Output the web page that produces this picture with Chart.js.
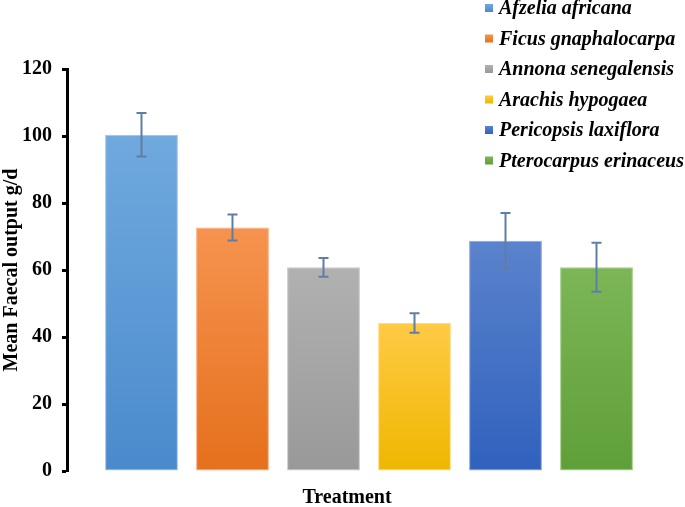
<!DOCTYPE html>
<html>
<head>
<meta charset="utf-8">
<script src="https://cdn.jsdelivr.net/npm/chart.js@4.4.0/dist/chart.umd.min.js"></script>
<style>
  body { margin: 0; background: #fff; }
  #wrap { width: 685px; height: 507px; }
</style>
</head>
<body>
<div id="wrap"><canvas id="chart" width="685" height="507"></canvas></div>
<script>
const categories = ['Treatment'];
const treatments = ['Afzelia africana', 'Ficus gnaphalocarpa', 'Annona senegalensis',
    'Arachis hypogaea', 'Pericopsis laxiflora', 'Pterocarpus erinaceus'];
const means = [100.4, 72.7, 60.8, 44.2, 68.7, 60.8];
const errors = [6.5, 3.9, 2.8, 2.9, 8.3, 7.3];
const yTicks = [0, 20, 40, 60, 80, 100, 120];

const topColors = ['#70a9de', '#f6934f', '#b1b1b1', '#ffca45', '#5b83cd', '#7cb657'];
const bottomColors = ['#4a8acc', '#e5701d', '#999999', '#eeb700', '#2f61bd', '#5f9f38'];
const edgeColors = ['#9cc3ea', '#f8ad7d', '#c8c8c8', '#ffdb85', '#8aa5dc', '#a0cc84'];

const FONT = '"Liberation Serif", "Times New Roman", serif';

function barGradient(ctx, i) {
    const chart = ctx.chart;
    if (!chart.chartArea || !chart.scales.y) return bottomColors[i];
    const y = chart.scales.y;
    const top = y.getPixelForValue(means[i]);
    const bottom = y.getPixelForValue(0);
    const g = chart.ctx.createLinearGradient(0, top, 0, bottom);
    g.addColorStop(0, topColors[i]);
    g.addColorStop(1, bottomColors[i]);
    return g;
}

// error bars drawn on top of the bars
const errorBars = {
    id: 'errorBars',
    afterDatasetsDraw(chart) {
        const ctx = chart.ctx;
        const y = chart.scales.y;
        ctx.save();
        ctx.strokeStyle = '#5f7ea6';
        ctx.lineWidth = 2;
        chart.data.datasets.forEach((ds, i) => {
            const bar = chart.getDatasetMeta(i).data[0];
            if (!bar) return;
            const yHi = y.getPixelForValue(means[i] + errors[i]);
            const yLo = y.getPixelForValue(means[i] - errors[i]);
            ctx.beginPath();
            ctx.moveTo(bar.x, yHi);
            ctx.lineTo(bar.x, yLo);
            ctx.moveTo(bar.x - 5, yHi);
            ctx.lineTo(bar.x + 5, yHi);
            ctx.moveTo(bar.x - 5, yLo);
            ctx.lineTo(bar.x + 5, yLo);
            ctx.stroke();
        });
        ctx.restore();
    }
};

// legend in the top right corner and the x axis title
const overlay = {
    id: 'overlay',
    afterDraw(chart) {
        const ctx = chart.ctx;
        ctx.save();
        ctx.textBaseline = 'middle';
        ctx.textAlign = 'left';
        ctx.font = 'italic bold 20px ' + FONT;
        treatments.forEach((name, i) => {
            const cy = 8 + i * 30.5;
            const g = ctx.createLinearGradient(0, cy - 4, 0, cy + 4);
            g.addColorStop(0, topColors[i]);
            g.addColorStop(1, bottomColors[i]);
            ctx.fillStyle = g;
            ctx.fillRect(485, cy - 4, 8, 8);
            ctx.fillStyle = '#000';
            ctx.fillText(name, 499, cy + 1);
        });
        ctx.font = 'bold 20px ' + FONT;
        ctx.textAlign = 'center';
        ctx.fillText(categories[0], 347, 498);
        ctx.restore();
    }
};

const datasets = treatments.map((name, i) => ({
    label: name,
    data: [means[i]],
    backgroundColor: ctx => barGradient(ctx, i),
    borderColor: edgeColors[i],
    borderWidth: 1,
    borderSkipped: false,
    barPercentage: 0.8,
    categoryPercentage: 0.904
}));

new Chart(document.getElementById('chart'), {
    type: 'bar',
    data: { labels: categories, datasets: datasets },
    options: {
        responsive: false,
        animation: false,
        layout: { padding: { top: 69, right: 14, bottom: 36, left: 0 } },
        plugins: { legend: { display: false }, tooltip: { enabled: false } },
        scales: {
            x: { display: false },
            y: {
                min: 0,
                max: 120,
                afterFit: scale => { scale.width = 67; },
                afterBuildTicks: scale => { scale.ticks = yTicks.map(v => ({ value: v })); },
                ticks: {
                    color: '#000',
                    padding: 10,
                    font: { family: FONT, size: 20, weight: 'bold' }
                },
                grid: {
                    drawOnChartArea: false,
                    tickLength: 5,
                    tickWidth: 3,
                    tickColor: '#000'
                },
                border: { color: '#000', width: 3 },
                title: {
                    display: true,
                    text: 'Mean Faecal output g/d',
                    color: '#000',
                    padding: { top: 0, bottom: 0 },
                    font: { family: FONT, size: 20, weight: 'bold' }
                }
            }
        }
    },
    plugins: [errorBars, overlay]
});
</script>
</body>
</html>
